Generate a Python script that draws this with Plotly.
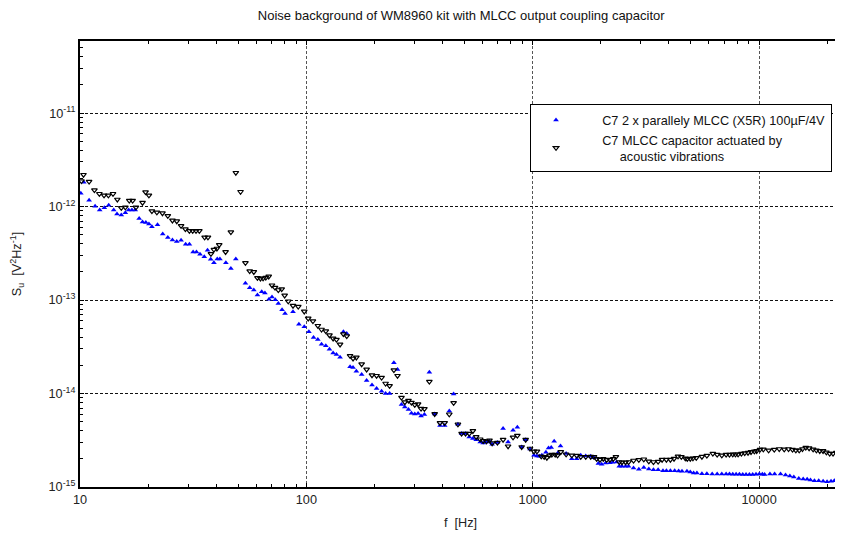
import plotly.graph_objects as go

title_text = "Noise background of WM8960 kit with MLCC output coupling capacitor"
pad = "&nbsp;" * 6
name_blue = pad + "C7 2 x parallely MLCC (X5R) 100\u00b5F/4V"
name_black = pad + "C7 MLCC capacitor actuated by<br>" + pad + "&nbsp;" * 5 + "acoustic vibrations"

x_tickvals = [10, 100, 1000, 10000]
x_ticktext = ["10", "100", "1000", "10000"]
y_tickvals = [1e-15, 1e-14, 1e-13, 1e-12, 1e-11]
y_ticktext = ["10<sup>-15</sup>", "10<sup>-14</sup>", "10<sup>-13</sup>", "10<sup>-12</sup>", "10<sup>-11</sup>"]

# Series 1: C7 2 x parallel MLCC (blue, triangle up)
f_blue = [10.08, 10.39, 10.97, 11.66, 12.22, 12.81, 13.39, 14.09, 14.57, 15.22, 15.86, 16.40, 16.96, 17.54,
          18.25, 18.89, 19.54, 20.16, 20.78, 22.0, 23.2, 24.43, 25.61, 26.76, 27.96, 29.3, 30.43, 31.6,
          32.7, 33.9, 35.4, 36.6, 37.8, 39.05, 40.4, 41.5, 44.1, 46.4, 48.8, 53.8, 56.2, 58.6, 60.8,
          63.5, 65.6, 68.4, 70.5, 72.9, 75.2, 78.1, 80.5, 87.3, 92.7, 97.9, 102.6, 107.6, 112.4,
          116.7, 121.9, 126.5, 131.3, 135.8, 140.9, 145.8, 150.8, 156.0, 160.8, 166.3, 175.5, 184.6,
          195.0, 204.3, 215.0, 223.9, 233.2, 243.6, 252.8, 263.2, 272.3, 282.6, 291.3, 301.3, 311.6,
          321.2, 332.3, 349.5, 368.9, 389.4, 408.3, 428.0, 447.3, 467.4, 485.1, 505.2, 524.3, 544.1,
          562.8, 586.1, 604.1, 624.9, 644.2, 661.9, 698.5, 739.9, 778.3, 818.7, 855.4, 893.8, 930.8,
          972.5, 1013, 1044, 1069, 1098, 1144, 1175, 1207, 1244, 1291, 1327, 1405, 1488, 1565, 1630,
          1715, 1804, 1866, 1950, 2017, 2101, 2194, 2254, 2347, 2412, 2479, 2572, 2651, 2789, 2944,
          3096, 3258, 3415, 3581, 3763, 3896, 4057, 4238, 4413, 4566, 4802, 4967, 5138, 5314, 5592,
          5881, 6207, 6530, 6846, 7153, 7400, 7654, 7916, 8189, 8470, 8760, 9062, 9372, 9694, 10027,
          10340, 10583, 11170, 11712, 12445, 13093, 13677, 14241, 14979, 15666, 16312, 16866, 17566,
          18347, 19187, 19976, 20800, 21508, 22240]
s_blue = [1.39e-12, 1.82e-12, 1.17e-12, 1.01e-12, 9.2e-13, 9.7e-13, 1.03e-12, 9.2e-13, 8.3e-13, 8.1e-13,
          8.6e-13, 9.2e-13, 9.2e-13, 9.2e-13, 7.46e-13, 6.82e-13, 6.76e-13, 6.5e-13, 6.08e-13, 6.4e-13,
          5.08e-13, 4.68e-13, 4.38e-13, 4.24e-13, 4.35e-13, 3.94e-13, 3.94e-13, 3.26e-13, 3.26e-13,
          3.08e-13, 2.91e-13, 3.4e-13, 2.73e-13, 2.51e-13, 2.75e-13, 2.75e-13, 2.51e-13, 2.18e-13,
          2.75e-13, 1.51e-13, 1.35e-13, 1.28e-13, 1.13e-13, 1.23e-13, 1.19e-13, 1.02e-13, 1.08e-13,
          1.01e-13, 9.2e-14, 7.85e-14, 7.18e-14, 7.48e-14, 5.52e-14, 5.17e-14, 4.57e-14, 3.97e-14,
          3.78e-14, 3.37e-14, 3.24e-14, 2.98e-14, 2.72e-14, 2.61e-14, 2.45e-14, 4.57e-14, 4.39e-14,
          1.93e-14, 1.90e-14, 1.73e-14, 1.60e-14, 1.38e-14, 1.23e-14, 1.13e-14, 1.06e-14, 1.0e-14,
          1.0e-14, 2.13e-14, 1.81e-14, 7.62e-15, 7.19e-15, 6.73e-15, 6.15e-15, 6.05e-15, 6.1e-15,
          5.76e-15, 5.95e-15, 1.69e-14, 6.05e-15, 4.54e-15, 4.54e-15, 6.52e-15, 9.9e-15, 4.69e-15,
          3.73e-15, 3.73e-15, 3.43e-15, 3.30e-15, 3.21e-15, 3.03e-15, 2.96e-15, 3.03e-15, 3.08e-15,
          2.87e-15, 2.99e-15, 4.22e-15, 3.03e-15, 4.05e-15, 4.36e-15, 2.68e-15, 3.21e-15, 2.55e-15,
          2.18e-15, 2.15e-15, 2.13e-15, 2.18e-15, 2.35e-15, 2.62e-15, 2.64e-15, 3.09e-15, 2.31e-15,
          2.75e-15, 2.28e-15, 2.01e-15, 2.0e-15, 2.18e-15, 2.15e-15, 2.13e-15, 2.05e-15, 1.78e-15,
          1.75e-15, 1.81e-15, 1.82e-15, 1.84e-15, 1.85e-15, 1.67e-15, 1.67e-15, 1.67e-15, 1.67e-15,
          1.60e-15, 1.55e-15, 1.62e-15, 1.56e-15, 1.53e-15, 1.53e-15, 1.49e-15, 1.49e-15, 1.49e-15,
          1.49e-15, 1.48e-15, 1.47e-15, 1.47e-15, 1.45e-15, 1.41e-15, 1.41e-15, 1.39e-15, 1.39e-15,
          1.38e-15, 1.38e-15, 1.38e-15, 1.38e-15, 1.38e-15, 1.37e-15, 1.37e-15, 1.37e-15, 1.36e-15,
          1.36e-15, 1.36e-15, 1.36e-15, 1.37e-15, 1.38e-15, 1.37e-15, 1.36e-15, 1.38e-15, 1.38e-15,
          1.38e-15, 1.34e-15, 1.31e-15, 1.28e-15, 1.23e-15, 1.22e-15, 1.21e-15, 1.19e-15, 1.17e-15,
          1.17e-15, 1.15e-15, 1.14e-15, 1.15e-15, 1.17e-15, 1.20e-15]

# Series 2: C7 MLCC actuated by acoustic vibrations (black, triangle down)
f_black = [10.15, 10.36, 10.97, 11.58, 12.18, 12.77, 13.35, 13.99, 14.62, 15.22, 15.86, 16.51, 17.08, 17.66,
           18.89, 19.48, 20.16, 20.78, 21.86, 23.14, 24.43, 25.61, 26.76, 27.96, 29.22, 30.43, 31.47,
           32.55, 33.67, 35.53, 36.75, 37.88, 39.05, 40.26, 41.22, 43.97, 46.4, 48.8, 51.2, 53.8, 56.2,
           58.6, 60.8, 62.7, 64.4, 66.2, 68.2, 70.5, 72.7, 75.2, 77.8, 80.2, 83.2, 87.3, 92.1, 97.9,
           101.9, 106.9, 112.4, 116.7, 121.9, 126.5, 131.3, 135.8, 140.9, 145.8, 150.8, 156.0, 160.8,
           166.3, 175.5, 184.6, 195.0, 204.3, 215.0, 223.9, 233.2, 243.6, 252.8, 263.2, 272.3, 282.6,
           291.3, 301.3, 311.6, 321.2, 332.3, 349.5, 368.9, 389.4, 408.3, 428.0, 447.3, 467.4, 485.1,
           505.2, 524.3, 544.1, 562.8, 586.1, 604.1, 624.9, 644.2, 661.9, 698.5, 739.9, 778.3, 818.7,
           855.4, 893.8, 930.8, 972.5, 1013, 1044, 1091, 1124, 1155, 1187, 1215, 1257, 1287, 1331,
           1405, 1488, 1565, 1630, 1715, 1804, 1866, 1917, 1983, 2051, 2122, 2194, 2270, 2331, 2412,
           2479, 2572, 2651, 2789, 2944, 3096, 3258, 3415, 3581, 3729, 3896, 4057, 4210, 4385, 4536,
           4723, 4818, 4967, 5104, 5279, 5592, 5881, 6250, 6530, 6846, 7153, 7400, 7654, 7864, 8078,
           8356, 8642, 8939, 9215, 9532, 9759, 10095, 10442, 11021, 11673, 12280, 12918, 13499, 14056,
           14540, 15041, 15550, 16085, 16638, 17334, 17925, 18542, 19177, 19837, 20518, 21220, 21948,
           22553]
s_black = [1.87e-12, 2.19e-12, 1.85e-12, 1.50e-12, 1.37e-12, 1.32e-12, 1.32e-12, 1.37e-12, 1.19e-12,
           9.7e-13, 9.8e-13, 1.16e-12, 1.16e-12, 9.8e-13, 1.10e-12, 1.43e-12, 1.32e-12, 8.95e-13,
           8.67e-13, 8.5e-13, 7.96e-13, 7.1e-13, 6.98e-13, 6.22e-13, 5.74e-13, 5.5e-13, 5.5e-13, 5.5e-13,
           5.5e-13, 4.68e-13, 4.68e-13, 3.12e-13, 3.47e-13, 3.56e-13, 3.89e-13, 3.27e-13, 5.33e-13,
           2.30e-12, 1.44e-12, 2.5e-13, 2.04e-13, 2.0e-13, 1.73e-13, 1.70e-13, 1.71e-13, 1.74e-13,
           1.79e-13, 1.44e-13, 1.36e-13, 1.28e-13, 1.31e-13, 1.12e-13, 9.7e-14, 8.7e-14, 8.5e-14,
           7.55e-14, 6.36e-14, 5.96e-14, 5.31e-14, 4.84e-14, 4.65e-14, 4.21e-14, 3.88e-14, 3.78e-14,
           3.35e-14, 4.32e-14, 4.11e-14, 2.53e-14, 2.37e-14, 2.43e-14, 2.06e-14, 1.81e-14, 1.57e-14,
           1.55e-14, 1.48e-14, 1.28e-14, 1.21e-14, 1.78e-14, 1.55e-14, 9.06e-15, 8.07e-15, 8.41e-15,
           8.0e-15, 7.56e-15, 7.69e-15, 6.9e-15, 6.85e-15, 1.34e-14, 6.05e-15, 4.85e-15, 4.85e-15,
           6.0e-15, 7.94e-15, 4.69e-15, 3.73e-15, 3.73e-15, 3.73e-15, 3.98e-15, 3.43e-15, 3.24e-15,
           3.11e-15, 3.08e-15, 3.16e-15, 2.94e-15, 2.99e-15, 3.21e-15, 2.73e-15, 3.40e-15, 3.55e-15,
           2.68e-15, 3.21e-15, 2.58e-15, 2.41e-15, 2.41e-15, 2.13e-15, 2.10e-15, 2.06e-15, 2.18e-15,
           2.22e-15, 2.22e-15, 2.18e-15, 2.37e-15, 2.24e-15, 2.18e-15, 2.17e-15, 2.10e-15, 2.10e-15,
           2.11e-15, 2.10e-15, 2.0e-15, 1.96e-15, 2.0e-15, 1.95e-15, 1.96e-15, 2.0e-15, 2.10e-15,
           1.85e-15, 1.84e-15, 1.84e-15, 1.85e-15, 1.92e-15, 1.95e-15, 1.98e-15, 1.88e-15, 1.85e-15,
           1.87e-15, 1.96e-15, 1.96e-15, 1.96e-15, 2.01e-15, 2.13e-15, 2.10e-15, 2.03e-15, 2.0e-15,
           2.01e-15, 2.03e-15, 2.05e-15, 2.11e-15, 2.17e-15, 2.28e-15, 2.22e-15, 2.18e-15, 2.22e-15,
           2.22e-15, 2.24e-15, 2.24e-15, 2.24e-15, 2.28e-15, 2.31e-15, 2.33e-15, 2.37e-15, 2.41e-15,
           2.43e-15, 2.51e-15, 2.53e-15, 2.47e-15, 2.51e-15, 2.55e-15, 2.53e-15, 2.55e-15, 2.51e-15,
           2.47e-15, 2.47e-15, 2.55e-15, 2.64e-15, 2.60e-15, 2.53e-15, 2.47e-15, 2.43e-15, 2.43e-15,
           2.35e-15, 2.28e-15, 2.28e-15, 2.33e-15, 2.35e-15]

fig = go.Figure()
fig.add_trace(go.Scatter(
    x=f_blue, y=s_blue, mode="markers", name=name_blue,
    marker=dict(symbol="triangle-up", size=5, color="#0000ff", line=dict(width=0)),
))
fig.add_trace(go.Scatter(
    x=f_black, y=s_black, mode="markers", name=name_black,
    marker=dict(symbol="triangle-down-open", size=5, color="#000000", line=dict(width=1.2)),
))

font_family = "Liberation Sans, Arial, sans-serif"

# The page body has an 8px margin, so the figure is sized to fill the rest of the window.
W, H = 835, 527
ml, mt, mb, mr = 71.5, 32.7, 48.3, 0
plot_w = W - ml - mr
plot_h = H - mt - mb

fig.update_layout(
    width=W, height=H,
    margin=dict(l=ml, r=mr, t=mt, b=mb, pad=0),
    paper_bgcolor="white", plot_bgcolor="white",
    font=dict(family=font_family, size=12.7, color="#222222"),
    title=dict(text=title_text, x=(ml + plot_w / 2) / W, xanchor="center", y=1 - 7 / H,
               yanchor="middle", font=dict(size=13, color="#111111")),
    showlegend=True,
    legend=dict(
        x=(523 - ml) / plot_w, y=(plot_h + mt - 96) / plot_h, xanchor="left", yanchor="top",
        bgcolor="white", bordercolor="black", borderwidth=1,
        font=dict(size=12.7, color="#111111"), itemwidth=40,
        tracegroupgap=0,
    ),
    xaxis=dict(
        type="log", range=[1, 4.362], tickvals=x_tickvals, ticktext=x_ticktext,
        showgrid=True, gridcolor="#555555", griddash="3px,2px", gridwidth=1,
        showline=True, linecolor="black", linewidth=1.5, mirror="ticks",
        ticks="inside", ticklen=4, tickcolor="black",
        minor=dict(ticks="inside", ticklen=3, tickcolor="black", showgrid=False, dtick="D1"),
        title=dict(text="f  [Hz]", font=dict(size=12.7), standoff=12),
        zeroline=False,
    ),
    yaxis=dict(
        type="log", range=[-15, -10.229], tickvals=y_tickvals, ticktext=y_ticktext,
        showgrid=True, gridcolor="#111111", griddash="3px,2px", gridwidth=1,
        showline=True, linecolor="black", linewidth=2, mirror="ticks",
        ticks="inside", ticklen=4, tickcolor="black",
        minor=dict(ticks="inside", ticklen=3, tickcolor="black", showgrid=False, dtick="D1"),
        title=dict(text="S<sub>u</sub>  [V<sup>2</sup>Hz<sup>-1</sup>]", font=dict(size=12.7), standoff=26),
        zeroline=False,
    ),
)

fig.write_html("out.html")
